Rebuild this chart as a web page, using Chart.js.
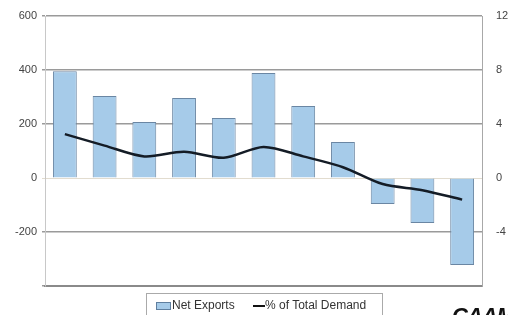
<!DOCTYPE html>
<html>
<head>
<meta charset="utf-8">
<script src="https://cdn.jsdelivr.net/npm/chart.js@4/dist/chart.umd.min.js"></script>
<style>
  html, body { margin: 0; padding: 0; background: #fff; overflow: hidden; }
  #wrap { position: relative; width: 508px; height: 315px; }
  #legend { position: absolute; left: 146px; top: 293px; width: 237px; height: 24px; border: 1px solid #aaa; box-sizing: border-box;
    font-family: "Liberation Sans", Arial, sans-serif; font-size: 12px; color: #333; }
  #legend .item { position: absolute; top: 4px; white-space: nowrap; }
  #logo { position: absolute; left: 452px; top: 303px; font-family: "Liberation Sans", Arial, sans-serif; font-weight: bold; font-style: italic; font-size: 22px; color: #111; letter-spacing: -1px; }
</style>
</head>
<body>
<div id="wrap">
  <canvas id="c" width="508" height="315"></canvas>
  <div id="legend">
    <span class="item" style="left:9px;"><span style="display:inline-block;width:13px;height:6px;background:#a6cbe9;border:1px solid #5f7f9f;vertical-align:middle;margin-right:1px;"></span>Net Exports</span>
    <span class="item" style="left:106px;"><span style="display:inline-block;width:12px;height:2px;background:#111;vertical-align:middle;margin-right:0px;"></span>% of Total Demand</span>
  </div>
  <div id="logo">CAAM</div>
</div>
<script>
const categories = ["1","2","3","4","5","6","7","8","9","10","11"];
const netExports = [395, 304, 207, 296, 222, 389, 267, 133, -96, -167, -322];
const pctTotalDemand = [3.25, 2.4, 1.6, 1.95, 1.5, 2.3, 1.6, 0.8, -0.45, -0.9, -1.6];
const leftTicks = [600, 400, 200, 0, -200];
const rightTicks = [12, 8, 4, 0, -4];

new Chart(document.getElementById('c'), {
  data: {
    labels: categories,
    datasets: [
      {
        type: 'line',
        label: '% of Total Demand',
        data: pctTotalDemand,
        yAxisID: 'yR',
        borderColor: '#141c26',
        borderWidth: 2.5,
        pointRadius: 0,
        tension: 0.3,
        order: 0
      },
      {
        type: 'bar',
        label: 'Net Exports',
        data: netExports,
        yAxisID: 'yL',
        backgroundColor: '#a6cbe9',
        borderColor: '#6a86a3',
        borderWidth: 1,
        barPercentage: 0.6,
        categoryPercentage: 1.0,
        order: 1
      }
    ]
  },
  options: {
    responsive: false,
    animation: false,
    layout: { padding: { top: 16, bottom: 21, left: 0, right: 0 } },
    plugins: { legend: { display: false }, tooltip: { enabled: false } },
    scales: {
      x: {
        offset: true,
        grid: { display: false },
        ticks: { display: false },
        border: { color: '#8a8a8a', width: 2 }
      },
      yL: {
        position: 'left',
        min: -400, max: 600,
        afterFit: s => { s.width = 45; },
        ticks: {
          stepSize: 200,
          padding: 5,
          color: '#444',
          font: { family: 'Liberation Sans', size: 11 },
          callback: v => leftTicks.includes(v) ? String(v) : ''
        },
        grid: {
          color: c => c.tick && c.tick.value === 0 ? '#e2dccf' : '#9a9a9a',
          lineWidth: c => c.tick && c.tick.value === 0 ? 1 : 1.5,
          drawTicks: true,
          tickLength: 3
        },
        border: { color: '#c8c8c8', width: 1 }
      },
      yR: {
        position: 'right',
        min: -8, max: 12,
        afterFit: s => { s.width = 26; },
        ticks: {
          stepSize: 4,
          padding: 6,
          color: '#444',
          font: { family: 'Liberation Sans', size: 11 },
          callback: v => rightTicks.includes(v) ? String(v) : ''
        },
        grid: { display: false, drawOnChartArea: false },
        border: { color: '#a8a8a8', width: 1 }
      }
    }
  }
});
</script>
</body>
</html>
